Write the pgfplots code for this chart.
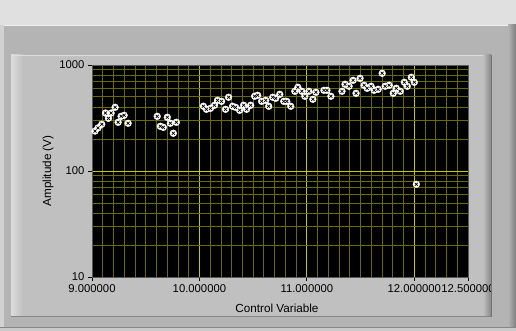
\documentclass[border=0pt]{standalone}
\usepackage{pgfplots}
\pgfplotsset{compat=1.18}
\usepackage{pgfplotstable}
\usepackage{fontspec}
\setmainfont{Liberation Sans}
\definecolor{topgray}{HTML}{E0E0E0}
\definecolor{outergray}{HTML}{B4B4B4}
\definecolor{innergray}{HTML}{C0C0C0}
\definecolor{majgrid}{HTML}{C8C800}
\definecolor{mingrid}{HTML}{6A6A00}
\pgfplotstableread{
x y
9.028 238
9.056 255
9.091 276
9.125 352
9.153 314
9.178 352
9.215 399
9.243 288
9.271 328
9.299 335
9.336 282
9.607 328
9.636 264
9.664 258
9.701 321
9.729 282
9.757 227
9.785 288
10.037 408
10.065 382
10.103 390
10.140 417
10.168 464
10.206 454
10.243 382
10.271 496
10.308 408
10.336 399
10.374 374
10.411 417
10.439 382
10.477 417
10.514 507
10.542 518
10.579 454
10.617 464
10.645 408
10.682 496
10.710 485
10.748 529
10.785 454
10.813 454
10.850 408
10.888 565
10.916 616
10.953 565
10.981 507
11.019 565
11.056 475
11.084 553
11.159 577
11.187 577
11.224 507
11.327 565
11.355 658
11.393 630
11.430 717
11.458 541
11.495 749
11.533 644
11.561 603
11.598 630
11.626 577
11.664 590
11.701 835
11.729 630
11.766 644
11.804 541
11.832 603
11.869 565
11.907 687
11.935 630
11.972 766
12.000 687
12.019 75
}\datatable
\begin{document}
\begin{tikzpicture}[x=1pt,y=1pt]
% window background
\fill[topgray] (0,0) rectangle (516,331);
% outer panel
\fill[outergray] (0,0) rectangle (516,306);
\fill[white!80!outergray] (0,305) rectangle (516,306);
\fill[white!40!outergray] (0,0) rectangle (4,306);
\shade[left color=outergray, right color=outergray!70!black] (508,0) rectangle (516,306);
\fill[outergray!75!black] (0,3) rectangle (516,4);
\fill[white!30!outergray] (0,0) rectangle (516,3);
% inner panel
\fill[innergray] (11,14) rectangle (491,276);
\shade[left color=white!45!innergray, right color=innergray] (11,14) rectangle (23,276);
\fill[white!45!innergray] (11,275) rectangle (491,276);
\shade[left color=innergray, right color=innergray!70!black] (483,14) rectangle (491,276);
\fill[innergray!70!black] (11,14) rectangle (491,15);
\begin{axis}[
  at={(92pt,54pt)}, anchor=south west,
  scale only axis, width=376pt, height=212pt,
  xmin=9, xmax=12.5, ymin=10, ymax=1000, ymode=log,
  axis background/.style={fill=black},
  axis line style={draw=black!65},
  xtick={9,10,11,12,12.5},
  xticklabels={9.000000,10.000000,11.000000,12.000000,12.500000},
  minor xtick={9.1,9.2,9.3,9.4,9.5,9.6,9.7,9.8,9.9,10.1,10.2,10.3,10.4,10.5,10.6,10.7,10.8,10.9,11.1,11.2,11.3,11.4,11.5,11.6,11.7,11.8,11.9,12.1,12.2,12.3,12.4},
  ytick={10,100,1000},
  yticklabels={10,100,1000},
  tick pos=left, tick align=outside,
  major tick length=4pt, minor tick length=0pt,
  tick style={black, line width=0.8pt},
  grid=both,
  major grid style={majgrid, line width=0.8pt},
  minor grid style={mingrid, line width=0.8pt},
  tick label style={font=\fontsize{11.3}{13}\selectfont, black},
  xlabel={Control Variable},
  ylabel={Amplitude (V)},
  label style={font=\fontsize{11.7}{13}\selectfont},
  xlabel style={at={(axis description cs:0.5,0)}, anchor=center, yshift=-31pt, xshift=-3pt},
  ylabel style={at={(axis description cs:0,0.5)}, anchor=center, yshift=44pt},
  clip=false,
]
\addplot[only marks, mark=*, mark size=3.4pt, white, mark options={draw=white, fill=white}] table[x=x,y=y] {\datatable};
\addplot[only marks, mark=x, mark size=2.1pt, black, mark options={line width=0.7pt}] table[x=x,y=y] {\datatable};
\end{axis}
% right edge over the clipped tick label
\fill[innergray!60!black] (491,14) rectangle (492,276);
\fill[outergray] (492,4) rectangle (508,305);
\shade[left color=outergray, right color=outergray!70!black] (508,4) rectangle (516,305);
\end{tikzpicture}
\end{document}
